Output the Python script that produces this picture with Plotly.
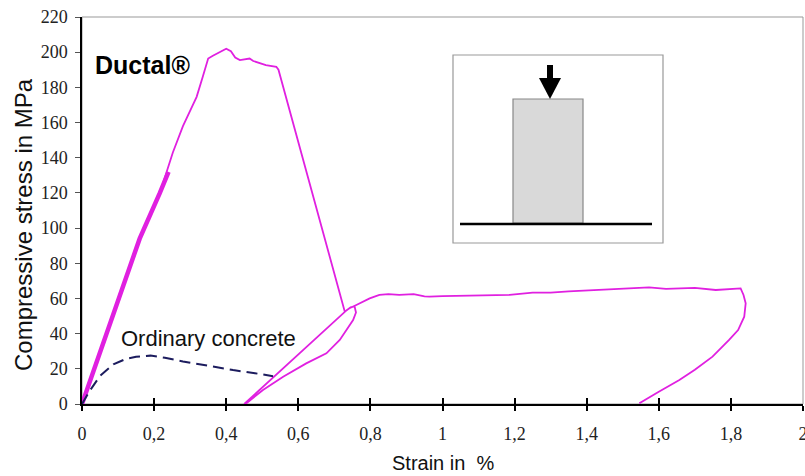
import plotly.graph_objects as go

# ---------------- data ----------------
# Ductal: thick initial loading segment
ductal_load_x = [0.0, 0.05, 0.10, 0.16, 0.216, 0.24]
ductal_load_y = [0.0, 29, 58, 94, 120, 132]

# Ductal: full stress-strain path
ductal_x = [0.0, 0.05, 0.10, 0.16, 0.216, 0.252, 0.28, 0.318, 0.335, 0.35, 0.363, 0.38, 0.40,
            0.413, 0.425, 0.438, 0.45, 0.465, 0.475, 0.493, 0.51, 0.539, 0.545,
            0.729, 0.745, 0.756, 0.760, 0.752, 0.715, 0.678, 0.622, 0.558, 0.502, 0.456, 0.45,
            0.735, 0.742, 0.761, 0.798, 0.825, 0.85, 0.88, 0.92, 0.95, 0.964, 1.0, 1.1, 1.186,
            1.25, 1.30, 1.35, 1.435, 1.50, 1.573, 1.62, 1.65, 1.70, 1.758, 1.80, 1.827,
            1.835, 1.841, 1.837, 1.82, 1.795, 1.749, 1.70, 1.657, 1.60, 1.546]
ductal_y = [0.0, 29, 58, 94, 120, 143, 158, 174.6, 186, 196.4, 198, 200, 202,
            200.5, 197, 195.5, 196, 196.4, 195, 193.6, 192.6, 191.7, 190,
            52.5, 55, 55.5, 52, 47.7, 36.4, 28.8, 23.1, 15.5, 8, 0.4, 0,
            53.5, 54.4, 56.3, 60, 62, 62.5, 62, 62.5, 61.2, 61, 61.3, 61.8, 62,
            63.3, 63.3, 64, 64.8, 65.5, 66.3, 65.5, 65.8, 66, 64.8, 65.5, 65.7,
            62, 57.2, 49.6, 42, 36.4, 26.9, 19.5, 13.6, 7, 0.4]

# Ordinary concrete
concrete_x = [0.0, 0.02, 0.05, 0.087, 0.12, 0.15, 0.19, 0.23, 0.28, 0.35, 0.419, 0.48, 0.53]
concrete_y = [0.0, 7, 16, 22.5, 25.5, 26.8, 27.5, 26.3, 24.2, 21.6, 19.3, 17.5, 15.8]

x_tickvals = [0, 0.2, 0.4, 0.6, 0.8, 1.0, 1.2, 1.4, 1.6, 1.8, 2.0]
x_ticktext = ["0", "0,2", "0,4", "0,6", "0,8", "1", "1,2", "1,4", "1,6", "1,8", "2"]
y_tickvals = [0, 20, 40, 60, 80, 100, 120, 140, 160, 180, 200, 220]

# ---------------- layout geometry ----------------
W, H = 805, 476
L, R, T, B = 82, 2, 17, 72
PW, PH = W - L - R, H - T - B


def px(xp):
    return (xp - L) / PW


def py(yp):
    return (H - B - yp) / PH


MAG = "#E020E0"
SERIF = "Liberation Serif, Times New Roman, serif"
SANS = "Liberation Sans, Arial, sans-serif"

fig = go.Figure()
fig.add_trace(go.Scatter(x=ductal_load_x, y=ductal_load_y, mode="lines",
                         line=dict(color=MAG, width=4.5), hoverinfo="skip", showlegend=False))
fig.add_trace(go.Scatter(x=ductal_x, y=ductal_y, mode="lines",
                         line=dict(color=MAG, width=1.8), showlegend=False))
fig.add_trace(go.Scatter(x=concrete_x, y=concrete_y, mode="lines", xaxis="x2",
                         line=dict(color="#1C1C5E", width=2, dash="11px,6px"), showlegend=False))

tickfont = dict(family=SERIF, size=18, color="#222")

fig.update_layout(
    width=W, height=H,
    margin=dict(l=L, r=R, t=T, b=B, autoexpand=False),
    paper_bgcolor="white", plot_bgcolor="white",
    font=dict(family=SERIF, color="#111", size=18),
    xaxis=dict(range=[0, 2], tickvals=x_tickvals, ticktext=x_ticktext, automargin=False,
               showgrid=False, zeroline=False, showline=True, linecolor="black", linewidth=2,
               ticks="outside", ticklen=5, tickwidth=2, tickcolor="black",
               ticklabelstandoff=7, ticklabeloverflow="allow", tickfont=tickfont),
    xaxis2=dict(range=[0, 2], overlaying="x", anchor="y", side="bottom", automargin=False,
                tickvals=x_tickvals, showticklabels=False, showgrid=False, zeroline=False,
                showline=False, ticks="inside", ticklen=6, tickwidth=2, tickcolor="black"),
    yaxis=dict(range=[0, 220], tickvals=y_tickvals, automargin=False,
               showgrid=False, zeroline=False, showline=True, linecolor="black", linewidth=1.5,
               ticks="outside", ticklen=5, tickwidth=1, tickcolor="#555",
               ticklabelstandoff=4, tickfont=tickfont),
)

shapes = [
    # plot frame (top and right)
    dict(type="rect", xref="paper", yref="paper", x0=0, y0=0, x1=1, y1=1,
         line=dict(color="#999", width=1), layer="below"),
    # inset box
    dict(type="rect", xref="paper", yref="paper", x0=px(453), x1=px(663), y0=py(243), y1=py(55),
         line=dict(color="#999", width=1.2), fillcolor="white"),
    # specimen
    dict(type="rect", xref="paper", yref="paper", x0=px(513), x1=px(583), y0=py(223), y1=py(99),
         line=dict(color="#888", width=1.2), fillcolor="#D9D9D9"),
    # base plate
    dict(type="line", xref="paper", yref="paper", x0=px(460), x1=px(652), y0=py(224), y1=py(224),
         line=dict(color="black", width=2.5)),
    # arrow shaft
    dict(type="rect", xref="paper", yref="paper", x0=px(547), x1=px(553), y0=py(80), y1=py(65),
         line=dict(width=0), fillcolor="black"),
    # arrow head
    dict(type="path", xref="paper", yref="paper",
         path=f"M {px(539)} {py(78)} L {px(561)} {py(78)} L {px(550)} {py(99)} Z",
         line=dict(width=0), fillcolor="black"),
]

annotations = [
    dict(text="<b>Ductal®</b>", xref="paper", yref="paper", x=px(142), y=py(65),
         showarrow=False, xanchor="center", yanchor="middle",
         font=dict(family=SANS, size=25, color="black")),
    dict(text="Ordinary concrete", xref="paper", yref="paper", x=px(208), y=py(338),
         showarrow=False, xanchor="center", yanchor="middle",
         font=dict(family=SANS, size=22, color="#111")),
    dict(text="Strain in\u00a0\u00a0%", xref="paper", yref="paper", x=px(443), y=py(463),
         showarrow=False, xanchor="center", yanchor="middle",
         font=dict(family=SANS, size=20, color="#111")),
    dict(text="Compressive stress in MPa", xref="paper", yref="paper", x=px(24), y=py(225),
         showarrow=False, xanchor="center", yanchor="middle", textangle=-90,
         font=dict(family=SANS, size=24, color="#111")),
]

fig.update_layout(shapes=shapes, annotations=annotations)
fig.write_html("out.html")
